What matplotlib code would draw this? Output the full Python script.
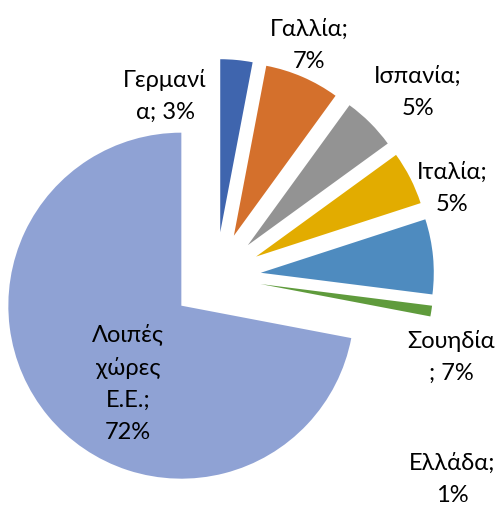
import matplotlib.pyplot as plt
import numpy as np

countries = ["Γερμανία", "Γαλλία", "Ισπανία", "Ιταλία", "Σουηδία", "Ελλάδα", "Λοιπές χώρες Ε.Ε."]
shares = [3, 7, 5, 5, 7, 1, 72]
colors = ["#3F65AE", "#D4702C", "#939393", "#E2AC00", "#4E8BBF", "#5F9B3C", "#8FA2D4"]

# label text as it wraps in the original, and its place in pixels (x, y from top)
label_text = ["Γερμανί\nα; 3%", "Γαλλία;\n7%", "Ισπανία;\n5%", "Ιταλία;\n5%",
              "Σουηδία\n; 7%", "Ελλάδα;\n1%", "Λοιπές\nχώρες\nΕ.Ε.;\n72%"]
label_pos = [(165, 96), (309, 45), (418, 92), (452, 188), (451, 357), (452, 479), (128, 383)]

W, H = 498, 509
cx, cy, R = 216, 277, 173   # pie centre and radius in pixels

fig = plt.figure(figsize=(W / 100, H / 100), dpi=100)
ax = fig.add_axes([0, 0, 1, 1])
ax.pie(shares, colors=colors, startangle=90, counterclock=False,
       explode=[0.26] * len(shares), radius=1,
       wedgeprops=dict(linewidth=0))
ax.set_xlim(-cx / R, (W - cx) / R)
ax.set_ylim(-(H - cy) / R, cy / R)
ax.set_aspect("equal")
ax.axis("off")

for txt, (px, py) in zip(label_text, label_pos):
    ax.text(px / W, 1 - py / H, txt, transform=ax.transAxes, ha="center", va="center",
            fontsize=17, family=["Lato", "DejaVu Sans"], linespacing=1.65, color="#000000")

fig.savefig("out.png", dpi=100)
